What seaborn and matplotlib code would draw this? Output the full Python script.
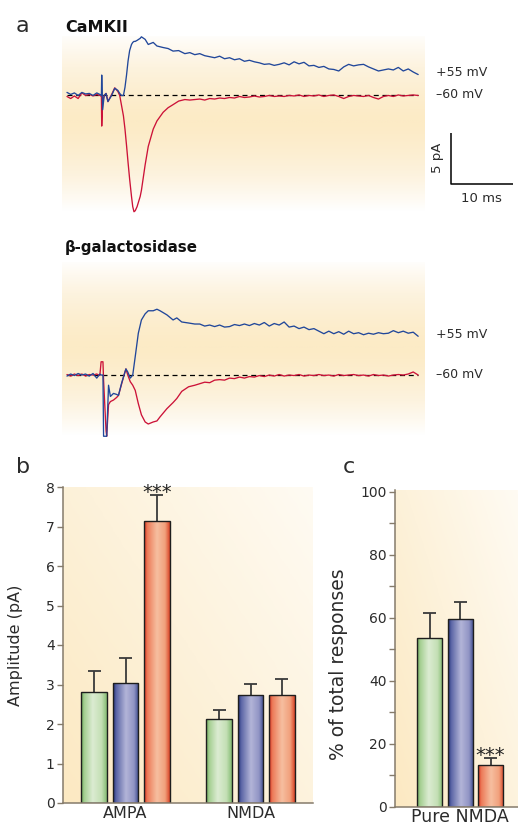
import numpy as np
import pandas as pd
import matplotlib
matplotlib.use("Agg")
import matplotlib.pyplot as plt
import seaborn as sns
from matplotlib.colors import LinearSegmentedColormap
from matplotlib.ticker import MultipleLocator

# ---------------- panel a: currents (time in ms, current in pA) ----------------
tail_t = [20.6, 21.4, 22.2, 23.0, 23.8, 24.6, 25.4, 26.2, 27.0, 27.8, 28.6, 29.4,
          30.2, 31.0, 31.8, 32.6, 33.4, 34.2, 35.0, 35.8, 36.6, 37.4, 38.2, 39.0,
          39.8, 40.6, 41.4, 42.2, 43.0, 43.8, 44.6, 45.4, 46.2, 47.0, 47.8, 48.6,
          49.4, 50.2, 51.0, 51.8, 52.6, 53.4, 54.2, 55.0, 55.8, 56.6]

camk_fast_t = [0.0, 0.6, 1.2, 1.8, 2.4, 3.0, 3.6, 4.2, 4.8, 5.3, 5.55, 5.6, 5.75,
               6.0, 6.3, 6.6, 7.2, 7.7, 8.2, 8.5, 8.8, 9.1, 9.35, 9.6, 9.85, 10.1,
               10.4, 10.6, 10.8, 11.0, 11.3, 11.8, 12.0, 12.6, 13.1, 13.9, 14.5,
               15.5, 16.3, 17.1, 18.0, 19.0, 19.8]
camk_pos55_fast = [0.3, 0.1, 0.25, 0.0, 0.3, 0.15, 0.2, 0.0, 0.25, 0.1, 0.0, 2.0, -1.4,
                   0.0, 0.2, -0.6, 0.0, 0.7, 0.5, 0.2, 0.0, 0.0, 0.8, 2.0, 3.4, 4.4,
                   5.0, 5.2, 5.3, 5.3, 5.4, 5.6, 5.75, 5.5, 5.0, 5.2, 4.85,
                   4.7, 4.6, 4.35, 4.4, 4.1, 4.2]
camk_pos55_tail = [4.0, 4.1, 3.9, 3.8, 3.7, 3.85, 3.6, 3.7, 3.5, 3.6, 3.35, 3.45,
                   3.3, 3.2, 3.05, 3.1, 2.95, 3.05, 3.2, 3.0, 3.3, 3.1, 3.25, 2.9,
                   2.95, 2.75, 2.85, 2.6, 2.55, 2.4, 2.8, 3.05, 2.9, 3.0, 3.05, 2.8,
                   2.6, 2.4, 2.5, 2.6, 2.5, 2.75, 2.4, 2.6, 2.3, 2.05]
camk_neg60_fast = [-0.1, -0.3, -0.05, -0.3, 0.25, 0.0, 0.1, -0.05, 0.1, 0.0, -0.1, -3.0, -0.6,
                   0.0, 0.2, -0.6, 0.1, 0.75, 0.4, 0.0, -1.0, -2.0, -3.3, -4.9, -6.6, -8.2,
                   -9.9, -10.9, -11.4, -11.3, -10.9, -9.9, -9.3, -6.8, -5.0, -3.3, -2.5,
                   -1.65, -1.2, -0.9, -0.55, -0.4, -0.45]
camk_neg60_tail = [-0.4, -0.35, -0.45, -0.3, -0.35, -0.25, -0.3, -0.2, -0.25, -0.1,
                   -0.2, -0.15, -0.05, -0.15, -0.1, 0.0, -0.1, -0.05, -0.1, 0.0,
                   -0.05, 0.05, -0.1, 0.0, -0.05, 0.05, -0.1, 0.0, 0.05, -0.1,
                   -0.3, -0.1, 0.0, -0.05, -0.1, 0.0, -0.2, -0.35, -0.1, 0.0,
                   -0.1, 0.05, -0.05, 0.0, 0.05, 0.0]

bgal_fast_t = [0.0, 0.6, 1.2, 1.8, 2.4, 3.0, 3.6, 4.2, 4.8, 5.3, 5.5, 5.8, 5.9, 6.3,
               6.4, 6.7, 7.0, 7.5, 8.0, 8.3, 8.8, 9.2, 9.5, 9.8, 10.2, 10.6, 11.0,
               11.5, 12.0, 12.6, 13.1, 13.9, 14.5, 15.0, 16.1, 17.1, 17.7, 18.5, 19.6]
bgal_pos55_fast = [-0.1, 0.1, -0.05, 0.15, 0.0, 0.1, -0.1, 0.15, -0.3, 0.1, 0.0, 0.0, -6.0, -6.0,
                   -6.0, -1.0, -2.1, -1.8, -1.9, -2.0, -0.8, 0.0, 0.6, 0.3, -0.3, 0.0, 1.8,
                   4.1, 5.4, 6.0, 6.3, 6.3, 6.45, 6.3, 5.9, 5.4, 5.6, 5.2, 5.1]
bgal_pos55_tail = [5.0, 5.0, 4.8, 4.9, 4.75, 4.9, 4.7, 4.75, 4.95, 4.85,
                   5.0, 4.85, 5.05, 4.9, 5.15, 4.8, 5.05, 4.9, 5.2, 4.7,
                   4.8, 4.55, 4.7, 4.45, 4.55, 4.3, 4.05, 4.3, 4.05, 4.25,
                   4.0, 4.3, 4.05, 4.15, 3.95, 4.1, 4.0, 4.15, 4.05, 4.1,
                   4.35, 4.15, 4.3, 4.1, 4.2, 3.8]
bgal_neg60_fast = [0.05, -0.1, 0.1, -0.05, 0.1, -0.1, 0.05, 0.0, 0.1, -0.05, 1.3, 1.3, -0.5, -5.5,
                   -6.0, -2.9, -2.6, -2.45, -2.2, -2.0, -0.9, 0.0, 0.6, 0.0, -0.65, -1.0, -1.5,
                   -2.8, -3.9, -4.6, -4.8, -4.6, -4.5, -4.1, -3.3, -2.7, -2.3, -1.6, -1.15]
bgal_neg60_tail = [-1.0, -0.85, -0.7, -0.75, -0.5, -0.45, -0.5, -0.3, -0.35, -0.2,
                   -0.3, -0.15, -0.2, -0.05, -0.15, 0.0, -0.1, 0.05, -0.1, 0.0,
                   -0.05, 0.05, -0.1, 0.0, -0.05, 0.05, -0.05, 0.0, -0.1, 0.05,
                   -0.05, 0.0, 0.05, -0.05, 0.0, -0.1, 0.05, -0.05, 0.0, -0.1,
                   0.0, 0.05, 0.0, 0.1, 0.3, 0.0]

camk_t = camk_fast_t + tail_t
camk_pos55 = camk_pos55_fast + camk_pos55_tail
camk_neg60 = camk_neg60_fast + camk_neg60_tail
bgal_t = bgal_fast_t + tail_t
bgal_pos55 = bgal_pos55_fast + bgal_pos55_tail
bgal_neg60 = bgal_neg60_fast + bgal_neg60_tail

# ---------------- panels b and c ----------------
groups = ["uninfected", "β-galactosidase", "CaMKII"]
receptors = ["AMPA", "NMDA"]
amp_ampa = [2.81, 3.03, 7.14]
amp_ampa_err = [0.53, 0.64, 0.66]
amp_nmda = [2.13, 2.73, 2.73]
amp_nmda_err = [0.22, 0.28, 0.40]
sig_ampa = ["", "", "***"]
sig_nmda = ["", "", ""]

pure_nmda = [53.6, 59.7, 13.3]
pure_nmda_err = [8.0, 5.4, 2.3]
sig_pure = ["", "", "***"]

df_b = pd.DataFrame({
    "receptor": [r for r in receptors for _ in groups],
    "group": groups * 2,
    "value": amp_ampa + amp_nmda,
    "err": amp_ampa_err + amp_nmda_err,
    "sig": sig_ampa + sig_nmda,
})
df_c = pd.DataFrame({
    "receptor": ["Pure NMDA"] * 3,
    "group": groups,
    "value": pure_nmda,
    "err": pure_nmda_err,
    "sig": sig_pure,
})

# ---------------- style ----------------
sns.set_style("ticks")
plt.rcParams["font.family"] = ["DejaVu Sans"]
TXT = "#2b2b2b"
SPINE = "#857b6b"
BLUE = "#21479a"
RED = "#cc1238"

W, H = 518, 826
fig = plt.figure(figsize=(W / 100, H / 100), dpi=100)


def px_axes(x0, y0, x1, y1):
    return fig.add_axes([x0 / W, 1 - y1 / H, (x1 - x0) / W, (y1 - y0) / H])


def ftext(x, y, s, **kw):
    kw.setdefault("color", TXT)
    fig.text(x / W, 1 - y / H, s, **kw)


band_cmap = LinearSegmentedColormap.from_list("band", ["#fcebc6", "#fdf3df", "#ffffff"])
diag_cmap = LinearSegmentedColormap.from_list("diag", ["#fce9c2", "#fdf2db", "#fffbf3"])


def shade_band(ax):
    yy = np.linspace(0, 1, 200)[:, None]
    f = np.clip(np.abs(yy - 0.52) / 0.5, 0, 1) ** 1.4
    ax.imshow(f * np.ones((1, 4)), cmap=band_cmap, vmin=0, vmax=1, origin="lower",
              extent=[0, 1, 0, 1], transform=ax.transAxes, aspect="auto", zorder=0)


def shade_diag(ax):
    yy, xx = np.mgrid[0:1:120j, 0:1:120j]
    f = (xx * 0.55 + yy * 0.45)
    ax.imshow(f, cmap=diag_cmap, vmin=0, vmax=1, origin="lower",
              extent=[0, 1, 0, 1], transform=ax.transAxes, aspect="auto", zorder=0)


def trace_panel(ax, t, pos, neg, ylim):
    shade_band(ax)
    ax.hlines(0, t[0], t[-1], colors="k", linestyles=(0, (4, 3)), lw=0.9, zorder=2)
    sns.lineplot(x=t, y=neg, color=RED, lw=0.95, estimator=None, ax=ax, zorder=3)
    sns.lineplot(x=t, y=pos, color=BLUE, lw=0.95, estimator=None, ax=ax, zorder=4)
    ax.set_xlim(-0.8, 57.7)
    ax.set_ylim(*ylim)
    ax.axis("off")


# panel a, top (CaMKII)
ax1 = px_axes(62, 36, 425, 215)
trace_panel(ax1, camk_t, camk_pos55, camk_neg60, (-11.72, 5.83))
# scale bar: 5 pA / 10 ms
SB_T, SB_I, SB_MS, SB_PA = 61.9, -8.68, 10, 5
ax1.plot([SB_T, SB_T, SB_T + SB_MS], [SB_I + SB_PA, SB_I, SB_I], color="k", lw=1.1,
         clip_on=False, solid_capstyle="butt")
ftext(438, 158, "5 pA", rotation=90, ha="center", va="center", fontsize=9.5)
ftext(481, 198, "10 ms", ha="center", va="center", fontsize=9.5)
ftext(436, 73, "+55 mV", va="center", fontsize=9)
ftext(436, 95, "–60 mV", va="center", fontsize=9)

# panel a, bottom (beta-gal)
ax2 = px_axes(62, 262, 425, 439)
trace_panel(ax2, bgal_t, bgal_pos55, bgal_neg60, (-6.27, 11.08))
ftext(436, 334, "+55 mV", va="center", fontsize=9)
ftext(436, 375, "–60 mV", va="center", fontsize=9)

ftext(16, 32, "a", fontsize=16, va="baseline")
ftext(65, 32, "CaMKII", fontsize=11.5, fontweight="bold", va="baseline", color="#111")
ftext(65, 252, "β-galactosidase", fontsize=10.8, fontweight="bold", va="baseline", color="#111")

# ---------------- bar panels ----------------
bar_cmaps = [
    LinearSegmentedColormap.from_list("g", [(0, "#6aa95a"), (0.12, "#a5cf92"), (0.45, "#dcecd2"),
                                            (0.8, "#c3dfb4"), (1, "#86bc74")]),
    LinearSegmentedColormap.from_list("b", [(0, "#22327a"), (0.12, "#5c66a6"), (0.5, "#b3b5d8"),
                                            (0.82, "#9094c4"), (1, "#3a488c")]),
    LinearSegmentedColormap.from_list("r", [(0, "#d52e1c"), (0.12, "#ec7a58"), (0.5, "#f6bfa0"),
                                            (0.82, "#f1a07c"), (1, "#da4629")]),
]
mid_colors = ["#c3dfb4", "#9094c4", "#f1a07c"]
bar_profile = np.linspace(0, 1, 64)[None, :]


def bar_panel(ax, df, order, ylim, cap):
    shade_diag(ax)
    sns.barplot(data=df, x="receptor", y="value", hue="group", hue_order=groups, order=order,
                palette=mid_colors, width=0.75, gap=0.18, errorbar=None, legend=False,
                edgecolor="#1e1e1e", linewidth=1.0, ax=ax)
    for gi, cont in enumerate(ax.containers):
        sub = df[df["group"] == groups[gi]].set_index("receptor").loc[order]
        for patch, (_, row) in zip(cont.patches, sub.iterrows()):
            x0, w, h = patch.get_x(), patch.get_width(), patch.get_height()
            im = ax.imshow(bar_profile, cmap=bar_cmaps[gi], vmin=0, vmax=1,
                           extent=[x0, x0 + w, 0, h], aspect="auto", zorder=1.5,
                           interpolation="bilinear")
            im.set_clip_path(patch)
            patch.set_facecolor("none")
            patch.set_zorder(2)
            xc, top = x0 + w / 2, h + row["err"]
            ax.vlines(xc, h, top, colors="#3a3a3a", lw=1.3, zorder=1.2)
            ax.hlines(top, xc - cap, xc + cap, colors="#3a3a3a", lw=1.3, zorder=1.2)
            if row["sig"]:
                ax.annotate(row["sig"], (xc, top), xytext=(0, -2), textcoords="offset points",
                            ha="center", va="baseline", fontsize=14, color="#222")
    ax.set_ylim(*ylim)
    ax.set_xlabel("")
    ax.patch.set_alpha(0)
    sns.despine(ax=ax)
    for s in ["left", "bottom"]:
        ax.spines[s].set_color(SPINE)
        ax.spines[s].set_linewidth(1.1)
    ax.tick_params(axis="y", which="both", length=4, width=1.0, color=SPINE,
                   labelcolor=TXT, pad=2)
    ax.tick_params(axis="x", length=0, labelcolor=TXT)


# panel b
ax_b = px_axes(63, 487, 313, 803)
bar_panel(ax_b, df_b, receptors, (0, 8), 0.052)
ax_b.set_xlim(-0.5, 1.5)
ax_b.set_yticks(range(0, 9))
ax_b.tick_params(axis="y", labelsize=10)
ax_b.tick_params(axis="x", labelsize=11.5, pad=2)
ax_b.set_ylabel("Amplitude (pA)", fontsize=11.5, color=TXT)
ax_b.yaxis.set_label_coords(-0.16, 0.5)

# panel c
ax_c = px_axes(395, 490, 518, 807)
bar_panel(ax_c, df_c, ["Pure NMDA"], (0, 100.6), 0.053)
ax_c.set_xlim(-0.533, 0.475)
ax_c.set_yticks(range(0, 101, 20))
ax_c.yaxis.set_minor_locator(MultipleLocator(10))
ax_c.tick_params(axis="y", labelsize=10)
ax_c.tick_params(axis="x", labelsize=12.5, pad=0.5)
ax_c.set_ylabel("% of total responses", fontsize=13.5, color=TXT)
ax_c.yaxis.set_label_coords(-0.386, 0.452)

ftext(16, 473, "b", fontsize=16, va="baseline")
ftext(343, 473, "c", fontsize=16, va="baseline")

fig.savefig("out.png", dpi=100)
